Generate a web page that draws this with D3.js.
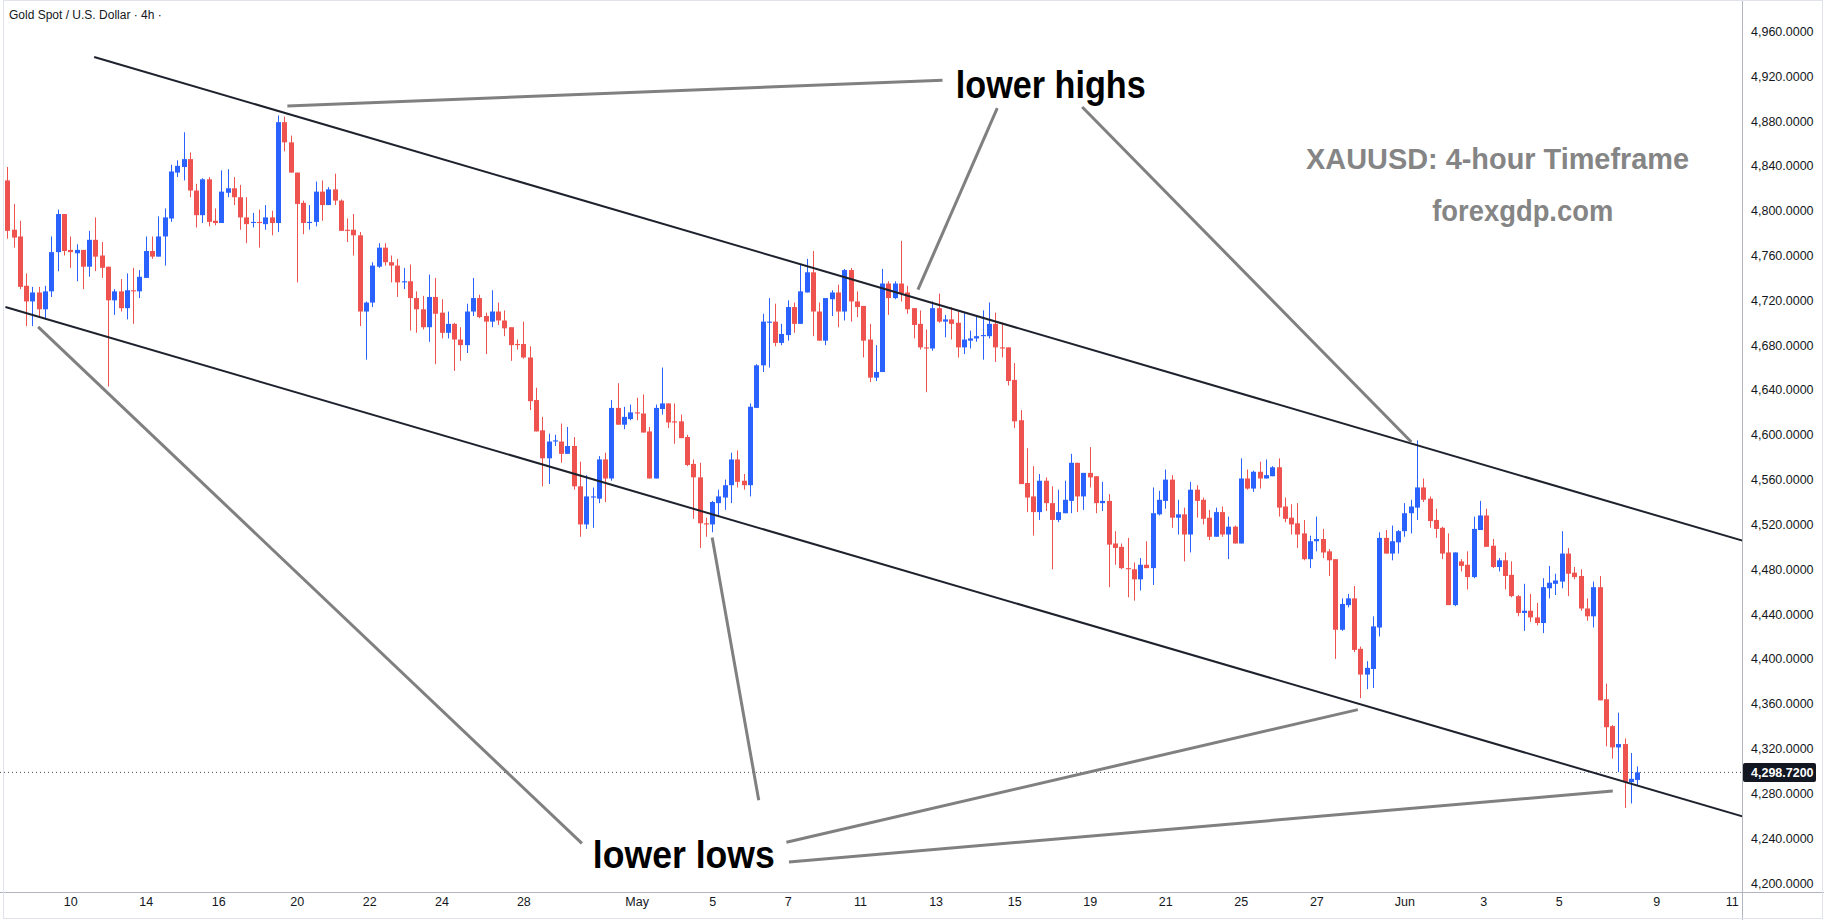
<!DOCTYPE html>
<html>
<head>
<meta charset="utf-8">
<script src="https://cdn.jsdelivr.net/npm/d3@7"></script>
<style>
    body { margin: 0; background: #ffffff; }
    svg text { font-family: "Liberation Sans", Arial, sans-serif; }
</style>
</head>
<body>
<div id="chart_gold"></div>
<script>

// XAUUSD 4h candles, oldest first
var opens = [
    4827,4783,4777,4733,4719,4727,4712,4728,4763,4797, 4765,4762,4765,4750,4774,4760,4750,4720,4728,4713,
    4729,4728,4740,4764,4759,4777,4793,4834,4839,4846, 4818,4796,4828,4791,4789,4816,4820,4812,4794,4789,
    4790,4788,4794,4789,4879,4861,4834,4807,4789,4790, 4817,4805,4819,4809,4783,4783,4778,4710,4718,4750,
    4767,4754,4751,4736,4737,4722,4712,4696,4723,4709, 4691,4699,4685,4680,4710,4722,4706,4701,4710,4702,
    4696,4681,4681,4669,4631,4604,4579,4594,4594,4583, 4590,4554,4520,4544,4543,4578,4561,4624,4609,4614,
    4620,4619,4603,4561,4623,4628,4612,4612,4598,4574, 4562,4521,4520,4539,4544,4555,4578,4559,4555,4624,
    4662,4700,4701,4682,4689,4714,4699,4727,4745,4710, 4684,4721,4727,4710,4747,4719,4715,4685,4651,4656,
    4735,4722,4735,4727,4713,4699,4678,4677,4713,4701, 4703,4700,4678,4684,4686,4688,4688,4699,4678,4678,
    4649,4613,4557,4545,4531,4559,4539,4524,4530,4541, 4575,4545,4566,4563,4539,4541,4503,4500,4481,4480,
    4471,4484,4481,4529,4541,4560,4526,4529,4511,4551, 4542,4526,4509,4531,4511,4518,4503,4561,4552,4567,
    4561,4563,4571,4536,4526,4521,4512,4489,4505,4507, 4496,4489,4426,4448,4454,4409,4386,4391,4428,4508,
    4494,4504,4514,4530,4535,4553,4543,4524,4517,4495, 4448,4487,4484,4473,4515,4528,4501,4482,4488,4475,
    4456,4441,4443,4437,4432,4463,4467,4469,4494,4477, 4474,4445,4438,4464,4364,4340,4321,4324,4290,4292
];
var highs = [
    4839,4806,4791,4744,4732,4732,4733,4777,4801,4797, 4777,4770,4765,4782,4794,4772,4750,4730,4739,4744,
    4749,4747,4777,4777,4795,4802,4841,4845,4870,4852, 4824,4829,4830,4802,4836,4837,4830,4823,4812,4798,
    4801,4805,4800,4885,4884,4867,4834,4809,4805,4826, 4827,4821,4833,4810,4793,4797,4781,4719,4754,4771,
    4771,4760,4757,4749,4752,4728,4724,4743,4740,4721, 4710,4700,4696,4717,4740,4725,4709,4729,4718,4711,
    4696,4685,4701,4679,4642,4616,4601,4600,4610,4607, 4598,4576,4564,4553,4581,4584,4631,4646,4625,4627,
    4633,4636,4607,4627,4660,4628,4628,4618,4600,4578, 4575,4526,4541,4551,4560,4584,4586,4565,4628,4663,
    4708,4722,4717,4699,4720,4718,4752,4757,4764,4718, 4722,4729,4734,4748,4749,4728,4715,4699,4680,4748,
    4737,4737,4773,4733,4713,4711,4694,4719,4726,4707, 4714,4710,4709,4693,4706,4711,4718,4709,4700,4678,
    4664,4622,4588,4572,4565,4562,4554,4551,4559,4583, 4575,4566,4589,4563,4558,4547,4514,4503,4508,4486,
    4490,4505,4553,4550,4569,4564,4542,4535,4558,4555, 4544,4533,4535,4536,4527,4519,4579,4569,4568,4576,
    4578,4572,4579,4544,4538,4539,4524,4510,4527,4516, 4498,4489,4454,4458,4465,4411,4398,4438,4513,4515,
    4519,4515,4539,4542,4595,4561,4545,4534,4518,4512, 4495,4489,4496,4527,4541,4534,4507,4490,4495,4487,
    4457,4467,4458,4450,4472,4483,4476,4514,4499,4482, 4480,4454,4469,4474,4378,4341,4352,4329,4316,4304
];
var lows = [
    4775,4767,4730,4697,4697,4705,4703,4723,4746,4760, 4749,4737,4730,4741,4746,4740,4643,4707,4710,4703,
    4699,4722,4740,4757,4759,4751,4790,4830,4827,4812, 4785,4789,4786,4787,4789,4812,4805,4783,4771,4785,
    4767,4783,4778,4781,4853,4834,4736,4779,4783,4786, 4791,4805,4805,4782,4772,4760,4697,4667,4714,4749,
    4751,4736,4723,4730,4693,4691,4694,4683,4663,4686, 4686,4657,4666,4673,4706,4704,4672,4696,4698,4688,
    4666,4676,4668,4622,4603,4554,4556,4590,4575,4583, 4551,4509,4516,4517,4539,4540,4559,4609,4605,4613,
    4613,4602,4561,4561,4618,4606,4592,4597,4572,4525, 4499,4509,4513,4527,4533,4539,4553,4551,4545,4624,
    4656,4660,4679,4680,4684,4691,4699,4727,4688,4684, 4680,4706,4696,4702,4701,4705,4669,4647,4648,4656,
    4707,4721,4719,4708,4686,4676,4638,4675,4700,4687, 4685,4669,4672,4677,4683,4667,4686,4665,4669,4644,
    4606,4556,4531,4510,4524,4532,4480,4522,4530,4530, 4531,4533,4553,4530,4532,4464,4484,4480,4455,4452,
    4461,4481,4466,4528,4534,4517,4511,4487,4495,4526, 4520,4506,4509,4509,4489,4503,4503,4551,4549,4552,
    4561,4563,4527,4522,4511,4499,4488,4481,4496,4490, 4474,4400,4425,4446,4406,4365,4373,4374,4420,4494,
    4488,4494,4509,4512,4524,4540,4517,4508,4489,4448, 4447,4478,4462,4472,4515,4500,4481,4478,4462,4455,
    4438,4425,4433,4430,4423,4454,4457,4463,4456,4471, 4443,4434,4428,4363,4322,4311,4299,4267,4271,4287
];
var closes = [
    4782,4776,4732,4719,4727,4712,4728,4763,4797,4764, 4763,4765,4750,4774,4759,4749,4720,4728,4713,4729,
    4728,4741,4764,4759,4777,4794,4835,4840,4846,4818, 4796,4828,4790,4789,4817,4820,4812,4794,4788,4790,
    4789,4794,4789,4879,4861,4834,4806,4789,4790,4817, 4805,4819,4809,4782,4782,4778,4710,4718,4751,4767,
    4754,4751,4736,4737,4722,4712,4696,4723,4708,4691, 4699,4685,4680,4710,4722,4705,4701,4710,4702,4695,
    4680,4680,4669,4630,4603,4579,4594,4595,4583,4590, 4554,4520,4545,4545,4578,4561,4624,4609,4616,4620,
    4619,4602,4561,4624,4628,4611,4611,4597,4573,4562, 4521,4520,4540,4545,4555,4578,4558,4555,4625,4662,
    4701,4701,4682,4690,4714,4699,4728,4745,4710,4684, 4722,4727,4710,4747,4719,4714,4684,4651,4656,4735,
    4722,4735,4726,4712,4698,4678,4677,4713,4701,4703, 4699,4678,4685,4686,4688,4689,4699,4678,4677,4648,
    4612,4556,4544,4531,4559,4539,4524,4531,4542,4575, 4545,4566,4562,4539,4541,4502,4499,4481,4480,4471,
    4484,4481,4530,4542,4560,4526,4529,4511,4551,4541, 4525,4509,4531,4511,4518,4503,4561,4552,4567,4561,
    4564,4571,4535,4525,4520,4511,4489,4505,4507,4495, 4488,4426,4449,4454,4408,4386,4392,4429,4508,4494,
    4505,4514,4530,4536,4553,4542,4523,4516,4494,4448, 4495,4483,4473,4516,4528,4500,4482,4488,4474,4456,
    4441,4443,4437,4432,4464,4468,4470,4494,4476,4473, 4445,4438,4464,4363,4339,4321,4324,4290,4293,4298.72
];

// time scale labels and the candle index they sit under
var dateLabels = ["10", "14", "16", "20", "22", "24", "28", "May", "5", "7", "11",
    "13", "15", "19", "21", "25", "27", "Jun", "3", "5", "9", "11"];
var dateIndex = [10, 22, 33.5, 46, 57.5, 69, 82, 100, 112, 124, 135.5,
    147.5, 160, 172, 184, 196, 208, 222, 234.5, 246.5, 262, 274];

var priceTicks = [4200, 4240, 4280, 4320, 4360, 4400, 4440, 4480, 4520, 4560, 4600,
    4640, 4680, 4720, 4760, 4800, 4840, 4880, 4920, 4960];
var lastPrice = 4298.72;

// channel lines as [candle index, price]
var upperChannel = [[13.8, 4937.2], [276, 4505]];
var lowerChannel = [[-0.3, 4714], [276, 4259]];

// grey pointer lines of the annotations, [candle index, price] pairs
var highPointers = [
    [[44.5, 4893.5], [148.6, 4916.4]],
    [[144.7, 4729.5], [157.3, 4891.5]],
    [[170.8, 4892.5], [223.1, 4593.6]]
];
var lowPointers = [
    [[91.3, 4235.3], [4.9, 4696.3]],
    [[119.4, 4273.8], [112.0, 4508.4]],
    [[123.8, 4236.4], [214.6, 4354.7]],
    [[124.2, 4218.7], [255.1, 4282.1]]
];

// set the dimensions of the graph
var width = 1824, height = 920;
var plotRight = 1742, plotBottom = 892;

var candles = opens.map(function (o, i) {
    return { i: i, o: o, h: highs[i], l: lows[i], c: closes[i] };
});

var x = d3.scaleLinear().domain([0, candles.length - 1]).range([7.3, 1637.3]);
var y = d3.scaleLinear().domain([4200, 4960]).range([883.0, 31.4]);

var svg = d3.select("#chart_gold")
    .append("svg")
    .attr("width", width)
    .attr("height", height);

svg.append("rect")
    .attr("width", width)
    .attr("height", height)
    .attr("fill", "#ffffff");

svg.append("clipPath")
    .attr("id", "plot_clip")
    .append("rect")
    .attr("x", 0).attr("y", 0)
    .attr("width", plotRight).attr("height", plotBottom);

var plot = svg.append("g").attr("clip-path", "url(#plot_clip)");

// last price dotted line
plot.append("line")
    .attr("x1", 0).attr("x2", plotRight)
    .attr("y1", y(lastPrice)).attr("y2", y(lastPrice))
    .attr("stroke", "#434651")
    .attr("stroke-width", 1)
    .style("stroke-dasharray", ("1, 3"));

// candles
var upColor = "#2962ff", downColor = "#ef5350";

plot.selectAll(".wick")
    .data(candles)
    .join("line")
    .attr("class", "wick")
    .attr("x1", function (d) { return Math.round(x(d.i)) + 0.5 })
    .attr("x2", function (d) { return Math.round(x(d.i)) + 0.5 })
    .attr("y1", function (d) { return y(d.h) })
    .attr("y2", function (d) { return y(d.l) })
    .attr("stroke", function (d) { return d.c >= d.o ? upColor : downColor })
    .attr("stroke-width", 1);

plot.selectAll(".body")
    .data(candles)
    .join("rect")
    .attr("class", "body")
    .attr("x", function (d) { return Math.round(x(d.i)) - 2 })
    .attr("width", 5)
    .attr("y", function (d) { return y(Math.max(d.o, d.c)) })
    .attr("height", function (d) { return Math.max(1, Math.abs(y(d.o) - y(d.c))) })
    .attr("fill", function (d) { return d.c >= d.o ? upColor : downColor });

// channel
var line = d3.line()
    .x(function (d) { return x(d[0]) })
    .y(function (d) { return y(d[1]) });

plot.selectAll(".channel")
    .data([upperChannel, lowerChannel])
    .join("path")
    .attr("class", "channel")
    .attr("d", line)
    .attr("fill", "none")
    .attr("stroke", "#1e222d")
    .attr("stroke-width", 2);

// annotation pointers
plot.selectAll(".pointer")
    .data(highPointers.concat(lowPointers))
    .join("path")
    .attr("class", "pointer")
    .attr("d", line)
    .attr("fill", "none")
    .attr("stroke", "#808080")
    .attr("stroke-width", 3);

// annotation texts
var notes = [
    { t: "lower highs", i: 165.8, p: 4900.8, size: 38, len: 190, color: "#000000" },
    { t: "lower lows", i: 107.5, p: 4213.5, size: 38, len: 182, color: "#000000" },
    { t: "XAUUSD: 4-hour Timeframe", i: 236.8, p: 4837.5, size: 30, len: 383, color: "#858585" },
    { t: "forexgdp.com", i: 240.8, p: 4790.8, size: 30, len: 181, color: "#858585" }
];

svg.selectAll(".note")
    .data(notes)
    .join("text")
    .attr("class", "note")
    .attr("x", function (d) { return x(d.i) })
    .attr("y", function (d) { return y(d.p) })
    .attr("text-anchor", "middle")
    .attr("textLength", function (d) { return d.len })
    .attr("lengthAdjust", "spacingAndGlyphs")
    .style("font-size", function (d) { return d.size + "px" })
    .style("font-weight", "bold")
    .attr("fill", function (d) { return d.color })
    .text(function (d) { return d.t });

// price scale
var yAxis = d3.axisRight(y)
    .tickValues(priceTicks)
    .tickFormat(d3.format(",.4f"))
    .tickSize(0)
    .tickPadding(9);

var yG = svg.append("g")
    .attr("transform", "translate(" + plotRight + ",0)")
    .call(yAxis);
yG.select(".domain").remove();
yG.selectAll("text")
    .style("font-size", "12.5px")
    .attr("fill", "#131722");

// time scale
var xAxis = d3.axisBottom(x)
    .tickValues(dateIndex)
    .tickFormat(function (d, i) { return dateLabels[i] })
    .tickSize(0)
    .tickPadding(5);

var xG = svg.append("g")
    .attr("transform", "translate(0," + plotBottom + ")")
    .call(xAxis);
xG.select(".domain").remove();
xG.selectAll("text")
    .style("font-size", "12.5px")
    .attr("fill", "#131722");

// borders
svg.append("line")
    .attr("x1", plotRight + 0.5).attr("x2", plotRight + 0.5)
    .attr("y1", 0).attr("y2", height)
    .attr("stroke", "#b2b5be");
svg.append("line")
    .attr("x1", 0).attr("x2", width)
    .attr("y1", plotBottom + 0.5).attr("y2", plotBottom + 0.5)
    .attr("stroke", "#b2b5be");
svg.append("rect")
    .attr("x", 3.5).attr("y", 0.5)
    .attr("width", width - 5).attr("height", height - 2)
    .attr("fill", "none")
    .attr("stroke", "#e0e3eb");

// last price label
svg.append("rect")
    .attr("x", plotRight + 1)
    .attr("y", y(lastPrice) - 9.5)
    .attr("width", 73)
    .attr("height", 19)
    .attr("rx", 2)
    .attr("fill", "#131722");
svg.append("text")
    .attr("x", plotRight + 9)
    .attr("y", y(lastPrice))
    .attr("dy", "0.35em")
    .style("font-size", "12.5px")
    .style("font-weight", "bold")
    .attr("fill", "#ffffff")
    .text(d3.format(",.4f")(lastPrice));

// symbol title
svg.append("text")
    .attr("x", 9)
    .attr("y", 19)
    .style("font-size", "12px")
    .attr("fill", "#131722")
    .text("Gold Spot / U.S. Dollar · 4h ·");

</script>
</body>
</html>
